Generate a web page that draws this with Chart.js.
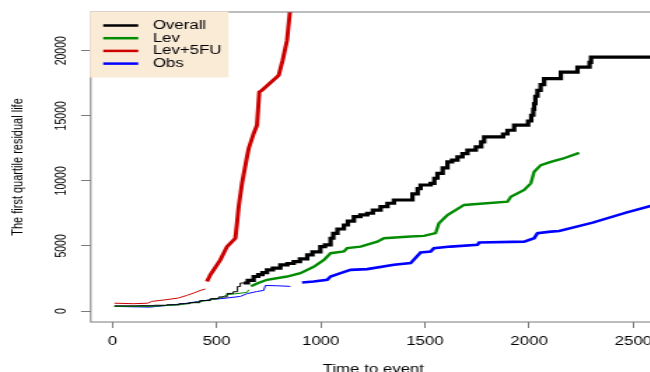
<!DOCTYPE html>
<html>
<head>
<meta charset="utf-8">
<script src="https://cdn.jsdelivr.net/npm/chart.js@4"></script>
<style>
  body { margin: 0; background: #fff; }
  #wrap { width: 650px; height: 372px; overflow: hidden; position: relative; background: #fff; }
</style>
</head>
<body>
<div id="wrap"><canvas id="chart" width="480" height="380" style="display:block;width:672px;height:380px"></canvas></div>
<script>
// data (time to event, first quartile residual life)
const overallTime = [10, 120, 200, 260, 320, 370, 420, 470, 510, 550, 580, 600, 614, 630, 650, 678, 700, 720, 742, 770, 806, 840, 870, 900, 935, 960, 998, 1020, 1047, 1060, 1080, 1111, 1130, 1159, 1190, 1223, 1250, 1287, 1320, 1351, 1440, 1465, 1479, 1527, 1545, 1560, 1585, 1608, 1630, 1656, 1680, 1704, 1744, 1770, 1784, 1875, 1896, 1928, 1995, 2010, 2020, 2024, 2030, 2040, 2055, 2072, 2152, 2232, 2290, 2297, 2700];
const overallValue = [400, 410, 440, 480, 560, 640, 800, 950, 1080, 1350, 1480, 1880, 2150, 2150, 2350, 2650, 2800, 2950, 3160, 3300, 3550, 3650, 3800, 4000, 4310, 4550, 4950, 5080, 5590, 5970, 6300, 6610, 6900, 7250, 7380, 7510, 7750, 8020, 8280, 8530, 9000, 9400, 9680, 9810, 10200, 10570, 11000, 11460, 11600, 11850, 12100, 12360, 12610, 13000, 13380, 13600, 13890, 14280, 14600, 15040, 15500, 15940, 16500, 16960, 17400, 17850, 18360, 18740, 19100, 19510, 19510];

const levTime = [10, 180, 325, 454, 518, 550, 646, 654, 660, 665, 700, 742, 838, 902, 966, 1015, 1047, 1111, 1127, 1191, 1271, 1303, 1431, 1495, 1551, 1567, 1608, 1688, 1896, 1912, 1976, 2008, 2024, 2056, 2104, 2160, 2240];
const levValue = [350, 350, 480, 810, 1000, 1250, 1430, 1630, null, 1900, 2150, 2400, 2650, 2910, 3400, 3930, 4440, 4570, 4830, 4950, 5330, 5590, 5720, 5770, 5980, 6740, 7380, 8150, 8400, 8780, 9300, 9810, 10700, 11210, 11460, 11700, 12150];

const lev5fuTime = [10, 100, 170, 190, 260, 317, 358, 390, 422, 446, 450, 454, 470, 518, 550, 590, 598, 606, 622, 646, 654, 678, 694, 705, 718, 798, 817, 838, 851, 858];
const lev5fuValue = [600, 560, 600, 740, 870, 1000, 1200, 1380, 1580, 1690, null, 2270, 2780, 3930, 4950, 5590, 6740, 8020, 9810, 11850, 12490, 13640, 14280, 16830, 16960, 18110, 19260, 20790, 22840, 24000];

const obsTime = [10, 181, 341, 470, 550, 614, 646, 694, 726, 734, 790, 854, 880, 910, 966, 1031, 1047, 1095, 1143, 1223, 1351, 1431, 1479, 1527, 1543, 1623, 1752, 1760, 1976, 2024, 2040, 2104, 2144, 2305, 2465, 2600];
const obsValue = [350, 300, 560, 870, 1000, 1120, 1330, 1500, 1580, 1960, 1940, 1890, null, 2190, 2270, 2400, 2650, 2910, 3160, 3220, 3550, 3680, 4490, 4570, 4830, 4950, 5080, 5260, 5330, 5590, 5980, 6100, 6150, 6790, 7560, 8150];

const xTicks = [0, 500, 1000, 1500, 2000, 2500];
const yTicks = [0, 5000, 10000, 15000, 20000];

const FONT = '"Liberation Sans", Arial, Helvetica, sans-serif';
const AXIS_GRAY = '#7a7a7a';

function toPoints(times, values) {
  return times.map((t, i) => ({ x: t, y: values[i] }));
}

// thin line for the early part, thick afterwards
function widthFrom(start, thick) {
  return ctx => (ctx.p0.parsed.x >= start ? thick : 1);
}

// box round the plot region, like R's box()
const plotBox = {
  id: 'plotBox',
  afterDatasetsDraw(chart) {
    const { ctx, chartArea: a } = chart;
    ctx.save();
    ctx.strokeStyle = AXIS_GRAY;
    ctx.lineWidth = 1;
    ctx.strokeRect(a.left, a.top, a.right - a.left, a.bottom - a.top);
    ctx.restore();
  }
};

// R style legend in the top left corner with an antiquewhite background
const boxLegend = {
  id: 'boxLegend',
  afterDraw(chart) {
    const { ctx, chartArea: a } = chart;
    const x0 = a.left - 0.6, y0 = a.top - 0.5;
    ctx.save();
    ctx.fillStyle = '#FAEBD7';
    ctx.fillRect(x0, y0, 99, 66);
    ctx.font = '12px ' + FONT;
    ctx.textBaseline = 'middle';
    chart.data.datasets.forEach((ds, i) => {
      const y = y0 + 14 + i * 12.7;
      ctx.strokeStyle = ds.borderColor;
      ctx.lineWidth = 2.5;
      ctx.beginPath();
      ctx.moveTo(x0 + 9.5, y);
      ctx.lineTo(x0 + 34.5, y);
      ctx.stroke();
      ctx.fillStyle = '#000';
      ctx.fillText(ds.label, x0 + 45, y);
    });
    ctx.restore();
  }
};

Chart.defaults.font.family = FONT;
Chart.defaults.color = '#000';

new Chart(document.getElementById('chart'), {
  type: 'line',
  data: {
    datasets: [
      {
        label: 'Overall',
        data: toPoints(overallTime, overallValue),
        borderColor: '#000000',
        stepped: true,
        segment: { borderWidth: widthFrom(625, 3.2) }
      },
      {
        label: 'Lev',
        data: toPoints(levTime, levValue),
        borderColor: '#008B00',
        segment: { borderWidth: widthFrom(660, 2.4) }
      },
      {
        label: 'Lev+5FU',
        data: toPoints(lev5fuTime, lev5fuValue),
        borderColor: '#CD0000',
        segment: { borderWidth: widthFrom(450, 3) }
      },
      {
        label: 'Obs',
        data: toPoints(obsTime, obsValue),
        borderColor: '#0000FF',
        segment: { borderWidth: widthFrom(880, 2.6) }
      }
    ]
  },
  options: {
    responsive: false,
    animation: false,
    spanGaps: false,
    elements: { point: { radius: 0 }, line: { borderWidth: 1, tension: 0 } },
    layout: { padding: { top: 12, right: 11.4, bottom: 0, left: 0 } },
    plugins: { legend: { display: false }, tooltip: { enabled: false } },
    scales: {
      x: {
        type: 'linear',
        min: -104,
        max: 2609,
        afterBuildTicks: s => { s.ticks = xTicks.map(v => ({ value: v })); },
        afterFit: s => { s.height = 58; },
        border: { display: false },
        grid: { drawOnChartArea: false, drawTicks: true, tickLength: 6, tickColor: AXIS_GRAY },
        ticks: { font: { size: 12 }, padding: 6, maxRotation: 0, callback: v => String(v) },
        title: { display: true, text: 'Time to event', font: { size: 12 }, padding: { top: 0, bottom: 3 } }
      },
      y: {
        type: 'linear',
        min: -845,
        max: 22975,
        afterBuildTicks: s => { s.ticks = yTicks.map(v => ({ value: v })); },
        afterFit: s => { s.width = 64.8; },
        border: { display: false },
        grid: { drawOnChartArea: false, drawTicks: true, tickLength: 7, tickColor: AXIS_GRAY },
        ticks: { font: { size: 10.5 }, padding: -1, minRotation: 90, maxRotation: 90, crossAlign: 'center', callback: v => String(v) },
        title: { display: true, text: 'The first quartile residual life', font: { size: 11 }, padding: { top: 6.5, bottom: 0 } }
      }
    }
  },
  plugins: [plotBox, boxLegend]
});
</script>
</body>
</html>
